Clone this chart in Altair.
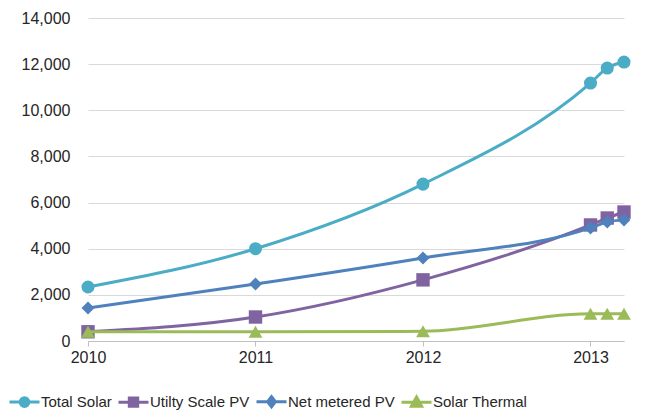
import altair as alt
import pandas as pd

years = [2010, 2011, 2012, 2013, 2013.1, 2013.2]
series_names = ["Total Solar", "Utilty Scale PV", "Net metered PV", "Solar Thermal"]
total_solar = [2340, 4000, 6800, 11180, 11830, 12090]
utility_pv = [400, 1040, 2650, 5030, 5330, 5590]
net_metered = [1430, 2470, 3600, 4900, 5160, 5250]
solar_thermal = [400, 400, 420, 1180, 1180, 1180]
colors = ["#4BACC6", "#8064A2", "#4F81BD", "#9BBB59"]
shapes = ["circle", "square", "diamond", "triangle-up"]
marker_sizes = [170, 180, 170, 190]
legend_paths = [
    "M-1,0H1M-0.29,0A0.29,0.29,0,1,0,0.29,0A0.29,0.29,0,1,0,-0.29,0Z",
    "M-1,0H1M-0.28,-0.28H0.28V0.28H-0.28Z",
    "M-1,0H1M0,-0.34L0.26,0L0,0.34L-0.26,0Z",
    "M-1,0H1M0,-0.34L0.34,0.28L-0.34,0.28Z",
]

rows = []
for name, vals in zip(series_names, [total_solar, utility_pv, net_metered, solar_thermal]):
    for yr, v in zip(years, vals):
        rows.append({"Year": yr, "Value": v, "Series": name})
df = pd.DataFrame(rows)

font = "Liberation Sans"
xenc = alt.X("Year:Q", scale=alt.Scale(domain=[2010, 2013.2], nice=False, zero=False),
             axis=alt.Axis(values=[2010, 2011, 2012, 2013], format="d", title=None,
                           grid=False, domainColor="#BFBFBF", tickColor="#BFBFBF",
                           tickSize=5, labelPadding=3, labelFontSize=16, labelFont=font,
                           labelColor="#262626", labelFlush=False))
yenc = alt.Y("Value:Q", scale=alt.Scale(domain=[0, 14000], nice=False),
             axis=alt.Axis(values=list(range(0, 14001, 2000)), format=",d", title=None,
                           domain=False, ticks=False, gridColor="#D9D9D9", labelPadding=18,
                           labelFontSize=16, labelFont=font, labelColor="#262626"))

layers = []
for name, col, shp, sz in zip(series_names, colors, shapes, marker_sizes):
    base = alt.Chart(df).transform_filter(alt.datum.Series == name)
    line = base.mark_line(strokeWidth=3, interpolate="monotone", color=col).encode(x=xenc, y=yenc)
    pts = base.mark_point(filled=True, opacity=1, size=sz, shape=shp, color=col).encode(x=xenc, y=yenc)
    layers += [line, pts]

leg = alt.Legend(title=None, orient="none", direction="horizontal", legendX=-80, legendY=367,
                 columnPadding=0, labelOffset=0, labelFontSize=15, labelFont=font,
                 labelColor="#262626", symbolSize=900, symbolStrokeWidth=3)
legend_layer = alt.Chart(df).transform_filter("false").mark_point(filled=True, opacity=1, strokeWidth=3).encode(
    x=xenc, y=yenc,
    fill=alt.Fill("Series:N", scale=alt.Scale(domain=series_names, range=colors), legend=leg),
    stroke=alt.Stroke("Series:N", scale=alt.Scale(domain=series_names, range=colors), legend=leg),
    shape=alt.Shape("Series:N", scale=alt.Scale(domain=series_names, range=legend_paths), legend=leg),
)
layers.append(legend_layer)

chart = alt.layer(*layers).properties(
    width=536, height=323,
    autosize=alt.AutoSizeParams(type="none"),
    padding={"left": 88, "top": 18, "right": 36, "bottom": 71},
    background="white",
).configure_view(stroke=None)

chart.save("out.html", embed_options={"renderer": "svg", "actions": False})
